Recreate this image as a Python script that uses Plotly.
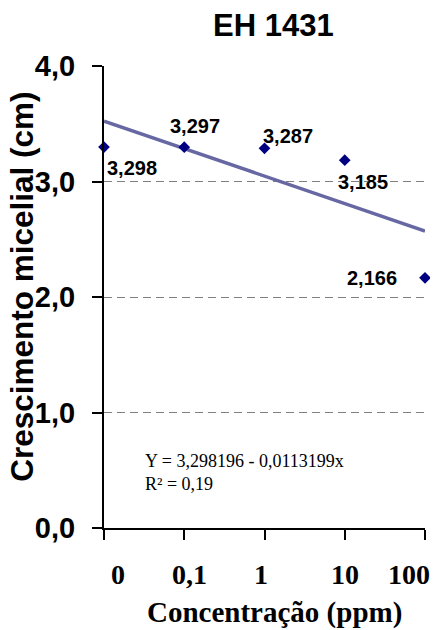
import numpy as np
import plotly.graph_objects as go

# ---- data ----
categories = ["0", "0,1", "1", "10", "100"]
growth = [3.298, 3.297, 3.287, 3.185, 2.166]
y_tick_vals = [0, 1, 2, 3, 4]
y_tick_labels = ["0,0", "1,0", "2,0", "3,0", "4,0"]
title_text = "EH 1431"
x_title = "Concentração (ppm)"
y_title = "Crescimento micelial (cm)"
equation_lines = ["Y = 3,298196 - 0,0113199x", "R² = 0,19"]

# ---- styles ----
label_shift = [(28, -21), (11, 21), (23, 12), (18, -22), (-53, 0)]
tick_shift = [14, 5, -4, 0, -16]
SANS = "Liberation Sans, Arial, sans-serif"
SERIF = "Liberation Serif, Times New Roman, serif"

x_idx = list(range(len(categories)))
slope, intercept = np.polyfit(x_idx, growth, 1)
trend = [intercept + slope * i for i in x_idx]

fig = go.Figure()
fig.add_trace(go.Scatter(
    x=x_idx, y=trend, mode="lines",
    line=dict(color="#6767A3", width=3.5),
    hoverinfo="skip", showlegend=False, cliponaxis=False,
))
fig.add_trace(go.Scatter(
    x=x_idx, y=growth, mode="markers",
    marker=dict(symbol="diamond", size=9, color="#000080"),
    showlegend=False, cliponaxis=False,
))

annotations = []
for i, v in enumerate(growth):
    dx, dy = label_shift[i]
    annotations.append(dict(
        x=i, y=v, xref="x", yref="y", showarrow=False,
        text=f"{v:.3f}".replace(".", ","),
        xshift=dx, yshift=dy, xanchor="center", yanchor="middle",
        font=dict(family=SANS, size=20, color="black", weight="bold"),
    ))
for i, c in enumerate(categories):
    annotations.append(dict(
        x=i, y=-0.1, xref="x", yref="paper", showarrow=False,
        text=c, xshift=tick_shift[i], xanchor="center", yanchor="middle",
        font=dict(family=SERIF, size=28, color="black", weight="bold"),
    ))
annotations += [
    dict(x=0.5265, y=1.0887, xref="paper", yref="paper", showarrow=False,
         text=title_text, xanchor="center", yanchor="middle",
         font=dict(family=SANS, size=31, color="black", weight="bold")),
    dict(x=0.53, y=-0.182, xref="paper", yref="paper", showarrow=False,
         text=x_title, xanchor="center", yanchor="middle",
         font=dict(family=SERIF, size=29, color="black", weight="bold")),
    dict(x=-0.2555, y=0.522, xref="paper", yref="paper", showarrow=False,
         text=y_title, textangle=-90, xanchor="center", yanchor="middle",
         borderpad=0,
         font=dict(family=SANS, size=31.5, color="black", weight="bold")),
    dict(x=0.1215, y=0.172, xref="paper", yref="paper", showarrow=False,
         text="<br>".join(equation_lines), align="left",
         xanchor="left", yanchor="top",
         font=dict(family=SERIF, size=18, color="black")),
]

# page body has an 8px margin, so the figure is drawn 8px in from the corner
fig.update_layout(
    width=430, height=622,
    margin=dict(l=96, r=13, t=58, b=102),
    paper_bgcolor="white", plot_bgcolor="white",
    showlegend=False,
    annotations=annotations,
    xaxis=dict(
        range=[0, 4], tickvals=x_idx, showticklabels=False,
        ticks="outside", ticklen=10, tickwidth=2, tickcolor="black",
        showline=True, linewidth=2, linecolor="black",
        showgrid=False, zeroline=False, fixedrange=True,
    ),
    yaxis=dict(
        range=[0, 4], tickvals=y_tick_vals, ticktext=y_tick_labels,
        ticks="outside", ticklen=10, tickwidth=2, tickcolor="black",
        tickfont=dict(family=SANS, size=29, color="black", weight="bold"),
        ticklabelstandoff=11,
        showline=True, linewidth=2, linecolor="black",
        showgrid=True, gridcolor="#808080", gridwidth=1, griddash="8px,5px",
        zeroline=False, fixedrange=True,
    ),
)

fig.write_html("out.html")
